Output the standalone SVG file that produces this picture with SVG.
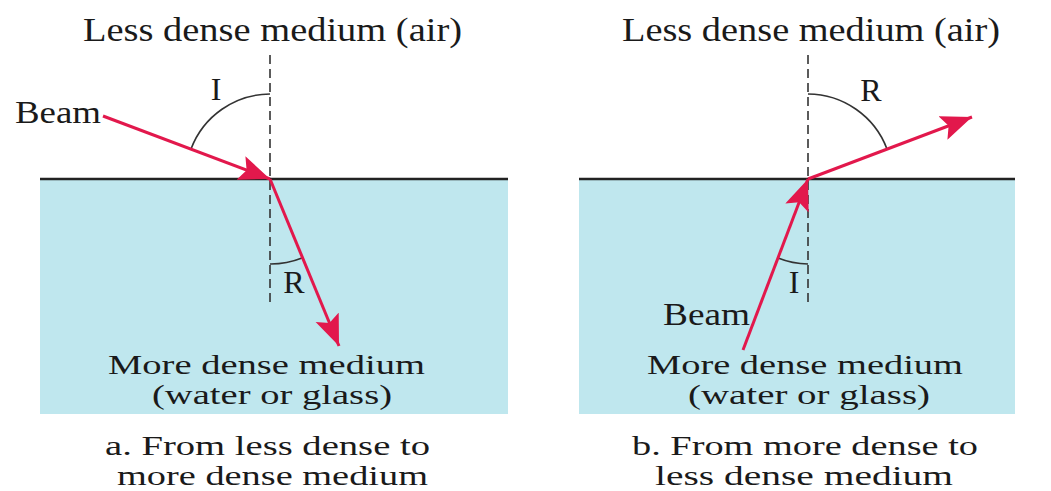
<svg xmlns="http://www.w3.org/2000/svg" width="1051" height="491" viewBox="0 0 1051 491">
  <style>
    .medium { fill: #bfe7ee; }
    .surface { stroke: #222; stroke-width: 2.5; fill: none; }
    .normal { stroke: #333; stroke-width: 1.6; stroke-dasharray: 9 5; fill: none; }
    .angle { stroke: #333; stroke-width: 1.6; fill: none; }
    .ray { stroke: #e2184c; stroke-width: 3; fill: none; marker-end: url(#arrow); }
    text { font-family: "Liberation Serif", "Times New Roman", serif; fill: #1a1a1a; }
    .t { font-size: 33px; text-anchor: middle; }
    .s { font-size: 27px; text-anchor: middle; }
    .lbl { font-size: 32px; text-anchor: middle; }
  </style>
  <defs>
    <marker id="arrow" markerUnits="userSpaceOnUse" markerWidth="34" markerHeight="28" refX="31" refY="12.5" orient="auto" viewBox="0 0 34 28">
      <path d="M0,0 L31,12.5 L0,25 L6,12.5 z" fill="#e2184c"/>
    </marker>
  </defs>
  <rect width="1051" height="491" fill="#ffffff"/>

  <g id="panel-a">
    <rect class="medium" x="40" y="179" width="468" height="235"/>
    <line class="surface" x1="40" y1="179" x2="508" y2="179"/>
    <line class="normal" x1="270" y1="55" x2="270" y2="305"/>
    <path class="angle" d="M270,94 A85,85 0 0 0 191,149"/>
    <path class="angle" d="M270,264 A85,85 0 0 0 302,258"/>
    <text class="t" x="272.5" y="41" textLength="379" lengthAdjust="spacingAndGlyphs">Less dense medium (air)</text>
    <text class="lbl" x="216" y="100">I</text>
    <text x="15" y="123" font-size="32" textLength="86" lengthAdjust="spacingAndGlyphs">Beam</text>
    <text class="lbl" x="294" y="293">R</text>
    <text class="s" x="266.5" y="374" textLength="317" lengthAdjust="spacingAndGlyphs">More dense medium</text>
    <text class="s" x="272" y="404" textLength="240" lengthAdjust="spacingAndGlyphs">(water or glass)</text>
    <text class="s" x="267.5" y="455" textLength="325" lengthAdjust="spacingAndGlyphs">a. From less dense to</text>
    <text class="s" x="272.5" y="485" textLength="311" lengthAdjust="spacingAndGlyphs">more dense medium</text>
  </g>

  <g id="panel-b">
    <rect class="medium" x="579" y="179" width="436" height="235"/>
    <line class="surface" x1="579" y1="179" x2="1015" y2="179"/>
    <line class="normal" x1="808" y1="55" x2="808" y2="307"/>
    <path class="angle" d="M808,94 A85,85 0 0 1 887,149"/>
    <path class="angle" d="M808,264 A85,85 0 0 1 778,258"/>
    <text class="t" x="811" y="41" textLength="378" lengthAdjust="spacingAndGlyphs">Less dense medium (air)</text>
    <text class="lbl" x="871" y="101">R</text>
    <text class="lbl" x="794" y="293">I</text>
    <text x="663" y="325" font-size="32" textLength="87" lengthAdjust="spacingAndGlyphs">Beam</text>
    <text class="s" x="805" y="374" textLength="316" lengthAdjust="spacingAndGlyphs">More dense medium</text>
    <text class="s" x="809" y="404" textLength="242" lengthAdjust="spacingAndGlyphs">(water or glass)</text>
    <text class="s" x="805" y="455" textLength="346" lengthAdjust="spacingAndGlyphs">b. From more dense to</text>
    <text class="s" x="804" y="485" textLength="298" lengthAdjust="spacingAndGlyphs">less dense medium</text>
  </g>

  <g id="connectors">
    <line class="ray" x1="103" y1="116" x2="270" y2="179"/>
    <line class="ray" x1="270" y1="179" x2="339" y2="346"/>
    <line class="ray" x1="743" y1="350" x2="808" y2="179"/>
    <line class="ray" x1="808" y1="179" x2="972" y2="117"/>
  </g>
</svg>
